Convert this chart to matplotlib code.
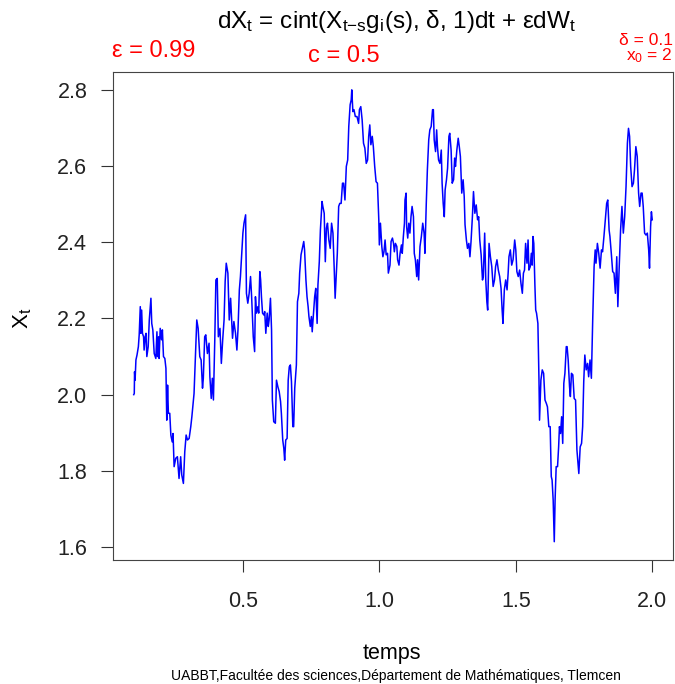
import matplotlib
matplotlib.use("Agg")
import matplotlib.pyplot as plt

plt.rcParams["font.family"] = ["Liberation Sans", "DejaVu Sans"]
plt.rcParams["mathtext.fontset"] = "custom"
plt.rcParams["mathtext.rm"] = "Liberation Sans"
plt.rcParams["mathtext.it"] = "Liberation Sans"
plt.rcParams["mathtext.bf"] = "Liberation Sans:bold"
plt.rcParams["mathtext.default"] = "rm"

# path (temps, X_t)
temps = [
    0.100, 0.102, 0.103, 0.105, 0.108, 0.112, 0.117, 0.120, 0.124, 0.126,
    0.129, 0.132, 0.136, 0.138, 0.142, 0.145, 0.148, 0.153, 0.157, 0.163,
    0.166, 0.170, 0.175, 0.181, 0.185, 0.187, 0.191, 0.193, 0.197, 0.202,
    0.205, 0.209, 0.214, 0.218, 0.221, 0.224, 0.227, 0.232, 0.236, 0.241,
    0.244, 0.248, 0.254, 0.260, 0.266, 0.272, 0.276, 0.282, 0.287, 0.292,
    0.297, 0.303, 0.309, 0.313, 0.317, 0.321, 0.325, 0.331, 0.336, 0.342,
    0.347, 0.352, 0.355, 0.360, 0.364, 0.370, 0.376, 0.379, 0.384, 0.388,
    0.392, 0.397, 0.401, 0.406, 0.410, 0.416, 0.421, 0.426, 0.431, 0.435,
    0.439, 0.445, 0.450, 0.455, 0.457, 0.462, 0.467, 0.473, 0.478, 0.482,
    0.487, 0.491, 0.496, 0.500, 0.504, 0.510, 0.513, 0.518, 0.523, 0.528,
    0.532, 0.538, 0.543, 0.546, 0.550, 0.555, 0.558, 0.562, 0.565, 0.568,
    0.572, 0.577, 0.580, 0.584, 0.589, 0.593, 0.596, 0.601, 0.605, 0.608,
    0.613, 0.619, 0.623, 0.628, 0.633, 0.638, 0.641, 0.646, 0.650, 0.653,
    0.657, 0.662, 0.666, 0.670, 0.674, 0.678, 0.683, 0.686, 0.690, 0.696,
    0.700, 0.705, 0.708, 0.713, 0.718, 0.723, 0.726, 0.731, 0.735, 0.739,
    0.742, 0.747, 0.751, 0.754, 0.759, 0.763, 0.767, 0.772, 0.775, 0.780,
    0.784, 0.790, 0.793, 0.798, 0.802, 0.806, 0.810, 0.815, 0.820, 0.825,
    0.830, 0.835, 0.838, 0.842, 0.846, 0.851, 0.855, 0.860, 0.865, 0.869,
    0.874, 0.879, 0.884, 0.888, 0.893, 0.897, 0.899, 0.903, 0.907, 0.912,
    0.918, 0.924, 0.927, 0.932, 0.937, 0.942, 0.947, 0.952, 0.957, 0.961,
    0.965, 0.969, 0.974, 0.978, 0.983, 0.988, 0.993, 0.998, 1.000, 1.004,
    1.009, 1.013, 1.017, 1.021, 1.025, 1.030, 1.033, 1.039, 1.043, 1.048,
    1.052, 1.055, 1.059, 1.064, 1.067, 1.072, 1.076, 1.081, 1.084, 1.088,
    1.092, 1.094, 1.098, 1.100, 1.104, 1.108, 1.112, 1.116, 1.120, 1.125,
    1.128, 1.132, 1.137, 1.140, 1.144, 1.149, 1.154, 1.159, 1.164, 1.167,
    1.172, 1.176, 1.181, 1.185, 1.190, 1.195, 1.198, 1.201, 1.206, 1.210,
    1.213, 1.217, 1.222, 1.227, 1.230, 1.234, 1.238, 1.241, 1.246, 1.250,
    1.255, 1.258, 1.263, 1.267, 1.272, 1.276, 1.279, 1.284, 1.289, 1.293,
    1.297, 1.302, 1.307, 1.311, 1.314, 1.319, 1.323, 1.328, 1.332, 1.336,
    1.341, 1.345, 1.350, 1.355, 1.360, 1.364, 1.368, 1.373, 1.378, 1.381,
    1.386, 1.390, 1.394, 1.397, 1.402, 1.407, 1.412, 1.417, 1.422, 1.426,
    1.431, 1.436, 1.441, 1.446, 1.450, 1.453, 1.458, 1.463, 1.468, 1.472,
    1.475, 1.480, 1.485, 1.490, 1.496, 1.500, 1.504, 1.509, 1.514, 1.519,
    1.524, 1.528, 1.532, 1.536, 1.541, 1.545, 1.548, 1.553, 1.557, 1.560,
    1.563, 1.566, 1.570, 1.573, 1.576, 1.581, 1.585, 1.587, 1.592, 1.597,
    1.602, 1.607, 1.612, 1.616, 1.621, 1.626, 1.630, 1.633, 1.637, 1.641,
    1.644, 1.648, 1.653, 1.657, 1.660, 1.664, 1.668, 1.672, 1.676, 1.680,
    1.685, 1.688, 1.692, 1.697, 1.700, 1.704, 1.709, 1.714, 1.719, 1.724,
    1.727, 1.731, 1.736, 1.741, 1.745, 1.749, 1.753, 1.758, 1.763, 1.767,
    1.772, 1.777, 1.782, 1.787, 1.791, 1.794, 1.799, 1.804, 1.809, 1.814,
    1.818, 1.823, 1.828, 1.833, 1.837, 1.842, 1.845, 1.850, 1.855, 1.860,
    1.865, 1.870, 1.874, 1.879, 1.884, 1.889, 1.894, 1.899, 1.904, 1.909,
    1.913, 1.917, 1.921, 1.926, 1.931, 1.935, 1.940, 1.945, 1.950, 1.954,
    1.959, 1.963, 1.967, 1.972, 1.977, 1.982, 1.987, 1.990, 1.994, 1.997,
    2.000,
]
X = [
    2.000, 2.003, 2.060, 2.038, 2.091, 2.104, 2.126, 2.157, 2.231, 2.161,
    2.222, 2.161, 2.152, 2.117, 2.152, 2.161, 2.100, 2.126, 2.196, 2.253,
    2.187, 2.170, 2.108, 2.095, 2.165, 2.100, 2.152, 2.095, 2.174, 2.144,
    2.170, 2.100, 2.095, 2.069, 1.933, 2.025, 1.951, 1.951, 1.894, 1.876,
    1.898, 1.811, 1.833, 1.837, 1.780, 1.837, 1.789, 1.767, 1.850, 1.894,
    1.881, 1.885, 1.916, 1.942, 1.973, 2.003, 2.078, 2.196, 2.174, 2.100,
    2.091, 2.017, 2.043, 2.152, 2.157, 2.108, 2.135, 2.047, 1.990, 2.043,
    1.986, 2.144, 2.301, 2.305, 2.152, 2.174, 2.082, 2.144, 2.196, 2.297,
    2.345, 2.319, 2.196, 2.253, 2.222, 2.148, 2.192, 2.161, 2.117, 2.170,
    2.275, 2.310, 2.371, 2.424, 2.450, 2.472, 2.266, 2.240, 2.266, 2.310,
    2.257, 2.152, 2.113, 2.257, 2.214, 2.231, 2.214, 2.323, 2.301, 2.257,
    2.214, 2.209, 2.218, 2.161, 2.214, 2.179, 2.196, 2.253, 2.170, 1.986,
    1.929, 1.925, 2.038, 2.021, 2.008, 1.982, 1.951, 1.881, 1.859, 1.828,
    1.881, 1.885, 2.038, 2.073, 2.078, 2.034, 1.916, 1.916, 2.017, 2.078,
    2.244, 2.266, 2.319, 2.367, 2.384, 2.402, 2.380, 2.301, 2.257, 2.231,
    2.205, 2.179, 2.205, 2.165, 2.214, 2.257, 2.279, 2.187, 2.288, 2.349,
    2.432, 2.507, 2.494, 2.476, 2.349, 2.437, 2.450, 2.406, 2.384, 2.450,
    2.424, 2.323, 2.253, 2.310, 2.371, 2.494, 2.502, 2.502, 2.555, 2.555,
    2.511, 2.599, 2.616, 2.704, 2.761, 2.774, 2.800, 2.743, 2.748, 2.730,
    2.730, 2.712, 2.748, 2.756, 2.721, 2.660, 2.647, 2.607, 2.616, 2.678,
    2.708, 2.656, 2.678, 2.651, 2.599, 2.559, 2.555, 2.459, 2.393, 2.450,
    2.389, 2.362, 2.375, 2.406, 2.367, 2.371, 2.319, 2.340, 2.402, 2.411,
    2.397, 2.375, 2.397, 2.389, 2.354, 2.340, 2.371, 2.393, 2.371, 2.415,
    2.450, 2.511, 2.529, 2.441, 2.411, 2.450, 2.424, 2.467, 2.494, 2.467,
    2.371, 2.354, 2.310, 2.354, 2.301, 2.389, 2.415, 2.450, 2.424, 2.371,
    2.502, 2.590, 2.669, 2.695, 2.704, 2.748, 2.748, 2.669, 2.638, 2.695,
    2.651, 2.616, 2.607, 2.642, 2.555, 2.502, 2.467, 2.537, 2.564, 2.594,
    2.678, 2.686, 2.642, 2.555, 2.564, 2.621, 2.599, 2.642, 2.673, 2.651,
    2.625, 2.529, 2.564, 2.520, 2.446, 2.406, 2.384, 2.397, 2.362, 2.402,
    2.467, 2.533, 2.476, 2.498, 2.459, 2.467, 2.406, 2.367, 2.301, 2.310,
    2.424, 2.301, 2.244, 2.222, 2.397, 2.362, 2.336, 2.284, 2.301, 2.336,
    2.354, 2.327, 2.310, 2.279, 2.222, 2.187, 2.275, 2.301, 2.275, 2.319,
    2.362, 2.380, 2.340, 2.354, 2.406, 2.380, 2.323, 2.310, 2.327, 2.292,
    2.266, 2.319, 2.327, 2.397, 2.345, 2.406, 2.327, 2.336, 2.371, 2.340,
    2.415, 2.397, 2.288, 2.222, 2.214, 2.187, 2.038, 1.933, 2.038, 2.065,
    2.056, 1.986, 1.977, 1.968, 1.916, 1.916, 1.785, 1.776, 1.723, 1.614,
    1.723, 1.811, 1.811, 1.863, 1.916, 1.898, 1.942, 1.872, 2.030, 2.056,
    2.126, 2.126, 2.091, 2.021, 1.995, 2.056, 2.052, 1.990, 1.986, 1.855,
    1.828, 1.793, 1.863, 1.872, 1.916, 2.034, 2.104, 2.065, 2.082, 2.047,
    2.091, 2.043, 2.200, 2.336, 2.380, 2.345, 2.397, 2.371, 2.332, 2.380,
    2.375, 2.415, 2.459, 2.502, 2.511, 2.432, 2.415, 2.371, 2.323, 2.319,
    2.266, 2.362, 2.231, 2.336, 2.432, 2.494, 2.424, 2.467, 2.546, 2.660,
    2.699, 2.678, 2.599, 2.546, 2.555, 2.590, 2.651, 2.625, 2.529, 2.494,
    2.529, 2.529, 2.494, 2.424, 2.419, 2.424, 2.380, 2.332, 2.441, 2.480,
    2.459,
]

x_ticks = [0.5, 1.0, 1.5, 2.0]
y_ticks = [1.6, 1.8, 2.0, 2.2, 2.4, 2.6, 2.8]

fig = plt.figure(figsize=(6.75, 6.84), dpi=100)
ax = fig.add_axes([0.1674, 0.1813, 0.8296, 0.7135])
ax.plot(temps, X, color="#0000ff", lw=1.1)

ax.set_xlim(0.024, 2.076)
ax.set_ylim(1.566, 2.847)
ax.set_xticks(x_ticks)
ax.set_xticklabels(["0.5", "1.0", "1.5", "2.0"])
ax.set_yticks(y_ticks)
ax.set_yticklabels([f"{v:.1f}" for v in y_ticks])
ax.tick_params(axis="both", length=8.5, width=0.8, color="#333333",
               labelsize=15.5, labelcolor="#222222")
ax.tick_params(axis="x", pad=14)
ax.tick_params(axis="y", pad=10)
for s in ax.spines.values():
    s.set_color("#444444")
    s.set_linewidth(0.8)

fig.text(0.588, 0.968, r"dX$_t$ = cint(X$_{t\mathrm{-}s}$g$_i$(s), δ, 1)dt + εdW$_t$",
         ha="center", va="center", fontsize=17.5)
fig.text(0.166, 0.925, "ε = 0.99", color="red", ha="left", va="center", fontsize=17)
fig.text(0.510, 0.918, "c = 0.5", color="red", ha="center", va="center", fontsize=17)
fig.text(0.997, 0.9415, "δ = 0.1", color="red", ha="right", va="center", fontsize=12.5)
fig.text(0.997, 0.918, r"x$_0$ = 2", color="red", ha="right", va="center", fontsize=12.5)

fig.text(0.033, 0.535, r"X$_t$", rotation=90, ha="center", va="center", fontsize=16)
fig.text(0.581, 0.045, "temps", ha="center", va="center", fontsize=15.5)
fig.text(0.587, 0.012, "UABBT,Facultée des sciences,Département de Mathématiques, Tlemcen",
         ha="center", va="center", fontsize=10)

fig.savefig("out.png", dpi=100)
